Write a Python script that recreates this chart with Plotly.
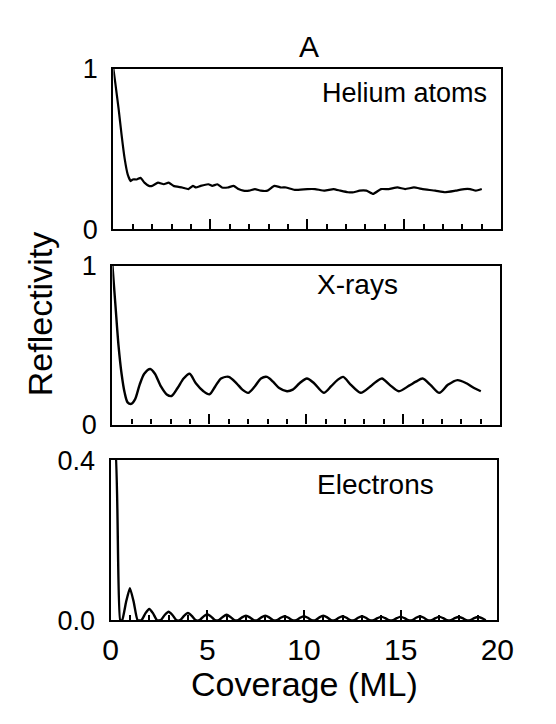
import plotly.graph_objects as go

# ---------------- data ----------------
helium_x = [0, 0.1, 0.27, 0.42, 0.58, 0.74, 0.89, 1.0, 1.2, 1.4, 1.6, 1.83, 2.0, 2.3, 2.6,
            2.85, 3.1, 3.55, 3.87, 4.1, 4.26, 4.5, 4.9, 5.1, 5.36, 5.6, 5.9, 6.2, 6.45, 6.7,
            7.0, 7.3, 7.6, 7.95, 8.3, 8.65, 8.9, 9.35, 10.0, 10.4, 10.9, 11.35, 11.7, 12.1,
            12.4, 12.7, 13.05, 13.4, 13.8, 14.2, 14.65, 15.05, 15.5, 15.95, 16.6, 17.1,
            17.65, 18.1, 18.4, 18.7, 19.0]
helium_y = [1.0, 0.91, 0.75, 0.59, 0.44, 0.34, 0.30, 0.31, 0.31, 0.32, 0.29, 0.27, 0.27, 0.29,
            0.28, 0.29, 0.27, 0.26, 0.25, 0.27, 0.26, 0.27, 0.28, 0.27, 0.28, 0.26, 0.26, 0.27,
            0.25, 0.24, 0.24, 0.25, 0.24, 0.24, 0.27, 0.26, 0.26, 0.245, 0.25, 0.25, 0.24,
            0.25, 0.24, 0.23, 0.23, 0.24, 0.24, 0.22, 0.25, 0.25, 0.26, 0.25, 0.26, 0.25,
            0.24, 0.23, 0.24, 0.25, 0.25, 0.24, 0.25]

xray_x = [0, 0.16, 0.31, 0.47, 0.63, 0.78, 0.97, 1.17, 1.4, 1.64, 1.95, 2.19, 2.5, 2.8, 3.05,
          3.36, 3.67, 3.98, 4.3, 4.69, 5.0, 5.3, 5.6, 6.0, 6.4, 6.7, 7.0, 7.34, 7.66, 7.97,
          8.28, 8.6, 9.0, 9.3, 9.65, 10.03, 10.4, 10.9, 11.27, 11.6, 11.9, 12.3, 12.8, 13.3,
          13.6, 13.9, 14.3, 14.77, 15.3, 15.65, 16.0, 16.4, 16.86, 17.3, 17.8, 18.26, 18.65,
          19.0]
xray_y = [1.0, 0.74, 0.50, 0.32, 0.20, 0.14, 0.13, 0.16, 0.25, 0.32, 0.35, 0.32, 0.24, 0.19,
          0.18, 0.23, 0.29, 0.32, 0.26, 0.21, 0.19, 0.24, 0.29, 0.30, 0.26, 0.22, 0.20, 0.24,
          0.29, 0.30, 0.27, 0.23, 0.21, 0.22, 0.26, 0.29, 0.26, 0.20, 0.24, 0.28, 0.30, 0.25,
          0.20, 0.24, 0.27, 0.29, 0.25, 0.21, 0.245, 0.27, 0.29, 0.25, 0.20, 0.25, 0.28, 0.26,
          0.23, 0.21]

elec_x = [0, 0.2, 0.5,
          0.6, 0.8, 1.0, 1.2, 1.4, 1.6, 1.8, 2.0, 2.2, 2.4, 2.6, 2.8, 3.0, 3.2, 3.4,
          3.6, 3.8, 4.0, 4.2, 4.4, 4.6, 4.8, 5.0, 5.2, 5.4, 5.6, 5.8, 6.0, 6.2, 6.4,
          6.6, 6.8, 7.0, 7.2, 7.4, 7.6, 7.8, 8.0, 8.2, 8.4, 8.6, 8.8, 9.0, 9.2, 9.4,
          9.6, 9.8, 10.0, 10.2, 10.4, 10.6, 10.8, 11.0, 11.2, 11.4, 11.6, 11.8, 12.0, 12.2, 12.4,
          12.6, 12.8, 13.0, 13.2, 13.4, 13.6, 13.8, 14.0, 14.2, 14.4, 14.6, 14.8, 15.0, 15.2, 15.4,
          15.6, 15.8, 16.0, 16.2, 16.4, 16.6, 16.8, 17.0, 17.2, 17.4, 17.6, 17.8, 18.0, 18.2, 18.4,
          18.6, 18.8, 19.0, 19.2, 19.4]
elec_y = [0.45, 0.45, 0.0,
          0.0, 0.045, 0.080, 0.045, 0.0, 0.0, 0.017, 0.028, 0.017, 0.0, 0.0, 0.013, 0.021, 0.013, 0.0,
          0.0, 0.011, 0.018, 0.011, 0.0, 0.0, 0.009, 0.015, 0.009, 0.0, 0.0, 0.008, 0.0135, 0.008, 0.0,
          0.0, 0.007, 0.011, 0.007, 0.0, 0.0, 0.007, 0.011, 0.007, 0.0, 0.0, 0.006, 0.010, 0.006, 0.0,
          0.0, 0.006, 0.010, 0.006, 0.0, 0.0, 0.007, 0.011, 0.007, 0.0, 0.0, 0.006, 0.010, 0.006, 0.0,
          0.0, 0.006, 0.010, 0.006, 0.0, 0.0, 0.005, 0.009, 0.005, 0.0, 0.0, 0.005, 0.009, 0.005, 0.0,
          0.0, 0.006, 0.010, 0.006, 0.0, 0.0, 0.005, 0.009, 0.005, 0.0, 0.0, 0.005, 0.008, 0.005, 0.0,
          0.0, 0.005, 0.008, 0.005, 0.0]

panel_labels = ["Helium atoms", "X-rays", "Electrons"]
x_tickvals = [0, 5, 10, 15, 20]
x_ticktext = ["0", "5", "10", "15", "20"]

# ---------------- layout helpers ----------------
W, H = 556, 724
FONT = "Liberation Sans, Arial, Helvetica, sans-serif"

def xdom(x0, x1):
    return [x0 / W, x1 / W]

def ydom(top, bottom):
    return [1 - bottom / H, 1 - top / H]

fig = go.Figure()
fig.add_trace(go.Scatter(x=helium_x, y=helium_y, mode="lines", xaxis="x", yaxis="y",
                         line=dict(color="black", width=2.2, shape="spline", smoothing=0.4)))
fig.add_trace(go.Scatter(x=xray_x, y=xray_y, mode="lines", xaxis="x2", yaxis="y2",
                         line=dict(color="black", width=2.4, shape="spline", smoothing=0.8)))
fig.add_trace(go.Scatter(x=elec_x, y=elec_y, mode="lines", xaxis="x3", yaxis="y3",
                         line=dict(color="black", width=2.4, shape="spline", smoothing=0.5)))

def xaxis_cfg(domain, anchor, labels):
    return dict(domain=domain, anchor=anchor, range=[0, 20], showgrid=False, zeroline=False,
                showline=True, linecolor="black", linewidth=2.4, mirror=True,
                ticks="inside", tickvals=x_tickvals, ticktext=x_ticktext, ticklen=10,
                tickwidth=2, tickcolor="black",
                minor=dict(ticks="inside", dtick=1, ticklen=5, tickwidth=1.8, tickcolor="black"),
                showticklabels=labels, ticklabelstandoff=2,
                tickfont=dict(family=FONT, size=30, color="black"))

def yaxis_cfg(domain, anchor, rng, vals, text):
    return dict(domain=domain, anchor=anchor, range=rng, showgrid=False, zeroline=False,
                showline=True, linecolor="black", linewidth=2.4, mirror=True,
                ticks="", tickvals=vals, ticktext=text, ticklabelstandoff=8,
                tickfont=dict(family=FONT, size=27, color="black"))

fig.update_layout(
    width=W, height=H,
    margin=dict(l=0, r=0, t=0, b=0),
    paper_bgcolor="white", plot_bgcolor="white",
    showlegend=False,
    xaxis=xaxis_cfg(xdom(102, 508), "y", False),
    yaxis=yaxis_cfg(ydom(48, 215), "x", [0, 1], [0, 1], ["0", "1"]),
    xaxis2=xaxis_cfg(xdom(101, 507), "y2", False),
    yaxis2=yaxis_cfg(ydom(253, 419), "x2", [0, 1], [0, 1], ["0", "1"]),
    xaxis3=xaxis_cfg(xdom(99, 504), "y3", True),
    yaxis3=yaxis_cfg(ydom(456, 623), "x3", [0, 0.4], [0, 0.4], ["0.0", "0.4"]),
)

def ann(text, x, y, size, xanchor="center", angle=0):
    fig.add_annotation(text=text, xref="paper", yref="paper", x=x / W, y=1 - y / H,
                       xanchor=xanchor, yanchor="middle", showarrow=False, textangle=angle,
                       font=dict(family=FONT, size=size, color="black"))

ann("A", 307, 24, 30)
ann(panel_labels[0], 318, 73, 27, xanchor="left")
ann(panel_labels[1], 313, 273, 28, xanchor="left")
ann(panel_labels[2], 313, 481, 28, xanchor="left")
ann("Reflectivity", 26, 304, 34, angle=-90)
ann("Coverage (ML)", 302, 690, 34)

fig.write_html("out.html")
